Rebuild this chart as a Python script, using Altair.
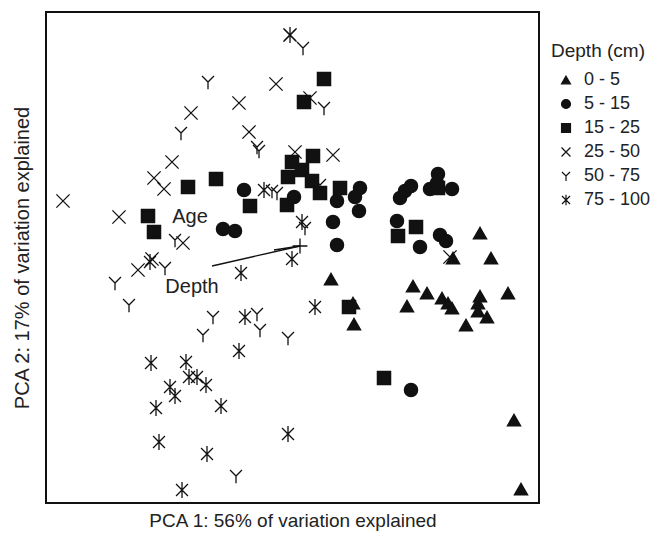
import altair as alt
import pandas as pd

depth_order = ["0 - 5", "5 - 15", "15 - 25", "25 - 50", "50 - 75", "75 - 100"]

# PCA scores (PCA1, PCA2) per depth class
d0_5_x = [1.80, 1.53, 1.91, 0.31, 0.53, 0.54, 1.13, 1.27, 1.07, 1.42, 1.48, 1.52, 1.80, 1.78, 1.78, 1.87, 1.66, 2.08, 2.14, 2.21]
d0_5_y = [0.13, -0.12, -0.12, -0.33, -0.57, -0.78, -0.40, -0.47, -0.60, -0.52, -0.57, -0.62, -0.50, -0.57, -0.65, -0.71, -0.79, -0.47, -1.74, -2.43]

d5_15_x = [-0.56, -0.77, -0.65, -0.06, 0.37, 0.55, 0.60, 0.59, 0.33, 0.37, 1.00, 1.05, 1.11, 1.30, 1.37, 1.38, 1.52, 0.97, 1.20, 1.40, 1.46, 1.11]
d5_15_y = [0.56, 0.17, 0.15, 0.49, 0.45, 0.49, 0.58, 0.35, 0.24, 0.01, 0.48, 0.55, 0.60, 0.57, 0.63, 0.72, 0.57, 0.25, -0.01, 0.11, 0.05, -1.44]

d15_25_x = [-1.52, -1.46, -1.12, -0.84, -0.50, -0.13, -0.12, -0.08, 0.02, 0.13, 0.12, 0.20, 0.40, 0.24, 0.04, 1.38, 0.98, 1.16, 0.49, 0.84]
d15_25_y = [0.30, 0.14, 0.59, 0.67, 0.40, 0.41, 0.69, 0.84, 0.76, 0.90, 0.65, 0.53, 0.58, 1.67, 1.44, 0.58, 0.10, 0.19, -0.61, -1.32]

d25_50_x = [-2.37, -1.81, -1.46, -1.36, -1.28, -1.09, -0.61, -0.51, -0.24, -0.10, 0.10, -0.05, 0.33, -1.17, -1.62, -1.48, 1.50]
d25_50_y = [0.45, 0.29, 0.68, 0.57, 0.84, 1.33, 1.43, 1.14, 1.62, 2.11, 1.48, 0.94, 0.91, 0.03, -0.24, -0.13, -0.11]

d50_75_x = [0.03, -0.92, 0.24, -1.19, -0.43, -0.41, -0.28, -0.23, 0.20, 0.05, -1.25, -1.35, -1.85, -1.71, -0.87, -0.43, -0.97, -0.40, -0.12, -0.64]
d50_75_y = [1.98, 1.64, 1.38, 1.13, 0.99, 0.95, 0.55, 0.53, 0.61, 0.18, 0.06, -0.22, -0.37, -0.59, -0.71, -0.68, -0.89, -0.84, -0.92, -2.30]

d75_100_x = [-0.10, -0.36, 0.02, -0.08, 0.15, -1.50, -0.59, -0.55, -0.61, -1.49, -1.14, -1.11, -1.03, -0.94, -1.30, -1.25, -1.44, -0.79, -1.41, -0.93, -0.12, -1.18]
d75_100_y = [2.11, 0.56, 0.24, -0.13, -0.61, -0.16, -0.27, -0.71, -1.05, -1.17, -1.16, -1.31, -1.31, -1.39, -1.41, -1.50, -1.62, -1.60, -1.96, -2.08, -1.88, -2.44]

# Environmental vectors (from origin)
vec_names = ["Age", "Depth"]
vec_x = [-0.26, -0.88]
vec_y = [-0.04, -0.20]
label_names = ["Age", "Depth"]
label_x = [-1.10, -1.08]
label_y = [0.29, -0.41]

series = [
    (depth_order[0], d0_5_x, d0_5_y),
    (depth_order[1], d5_15_x, d5_15_y),
    (depth_order[2], d15_25_x, d15_25_y),
    (depth_order[3], d25_50_x, d25_50_y),
    (depth_order[4], d50_75_x, d50_75_y),
    (depth_order[5], d75_100_x, d75_100_y),
]
rows = []
for name, xs_, ys_ in series:
    for a, b in zip(xs_, ys_):
        rows.append({"pc1": a, "pc2": b, "depth": name})
df = pd.DataFrame(rows)

vec_df = pd.DataFrame({"name": vec_names, "x0": [0.0, 0.0], "y0": [0.0, 0.0], "x1": vec_x, "y1": vec_y})
lab_df = pd.DataFrame({"name": label_names, "x": label_x, "y": label_y})
origin_df = pd.DataFrame({"x": [0.0], "y": [0.0]})

X_DOM = [-2.54, 2.39]
Y_DOM = [-2.57, 2.34]
xs = alt.Scale(domain=X_DOM, nice=False, zero=False)
ys = alt.Scale(domain=Y_DOM, nice=False, zero=False)

shape_range = [
    "triangle-up",
    "circle",
    "square",
    "M-1,-1L1,1M-1,1L1,-1",
    "M-0.9,-0.9L0,0L0.9,-0.9M0,0L0,1.1",
    "M-0.9,-0.9L0.9,0.9M-0.9,0.9L0.9,-0.9M0,-1.2L0,1.2",
]
fill_range = ["#111111", "#111111", "#111111", "transparent", "transparent", "transparent"]

legend = alt.Legend(
    title="Depth (cm)",
    orient="none",
    legendX=505,
    legendY=30,
    titleFontSize=19,
    titleFontWeight="normal",
    titleColor="#222222",
    labelFontSize=18,
    labelColor="#222222",
    symbolSize=80,
    symbolStrokeWidth=1.2,
    symbolOffset=6,
    rowPadding=6,
    labelOffset=9,
    titlePadding=10,
    padding=0,
)

points = alt.Chart(df).mark_point(size=175, strokeWidth=1.3, opacity=1, stroke="#111111").encode(
    x=alt.X("pc1:Q", scale=xs, axis=alt.Axis(
        title="PCA 1: 56% of variation explained", labels=False, ticks=False, grid=False,
        domain=False, titleFontSize=19, titleFontWeight="normal", titleColor="#222222", titlePadding=8)),
    y=alt.Y("pc2:Q", scale=ys, axis=alt.Axis(
        title="PCA 2: 17% of variation explained", labels=False, ticks=False, grid=False,
        domain=False, titleFontSize=20, titleFontWeight="normal", titleColor="#222222", titlePadding=14)),
    shape=alt.Shape("depth:N", scale=alt.Scale(domain=depth_order, range=shape_range), legend=legend),
    fill=alt.Fill("depth:N", scale=alt.Scale(domain=depth_order, range=fill_range), legend=legend),
)

vectors = alt.Chart(vec_df).mark_rule(color="#111111", strokeWidth=1.3).encode(
    x=alt.X("x0:Q", scale=xs), y=alt.Y("y0:Q", scale=ys), x2="x1:Q", y2="y1:Q"
)

origin = alt.Chart(origin_df).mark_point(
    shape="M-1,0L1,0M0,-1L0,1", size=220, filled=False, stroke="#111111", strokeWidth=1.3, opacity=1
).encode(x=alt.X("x:Q", scale=xs), y=alt.Y("y:Q", scale=ys))

labels = alt.Chart(lab_df).mark_text(fontSize=20, color="#222222", align="center", baseline="middle").encode(
    x=alt.X("x:Q", scale=xs), y=alt.Y("y:Q", scale=ys), text="name:N"
)

chart = alt.layer(points, vectors, origin, labels).properties(
    width=493, height=491,
    autosize="none",
    padding={"left": 38, "top": 4, "right": 116, "bottom": 29},
).configure(font="Liberation Sans").configure_view(stroke="#111111", strokeWidth=2)

chart.save("out.html", embed_options={"renderer": "svg", "actions": False})
